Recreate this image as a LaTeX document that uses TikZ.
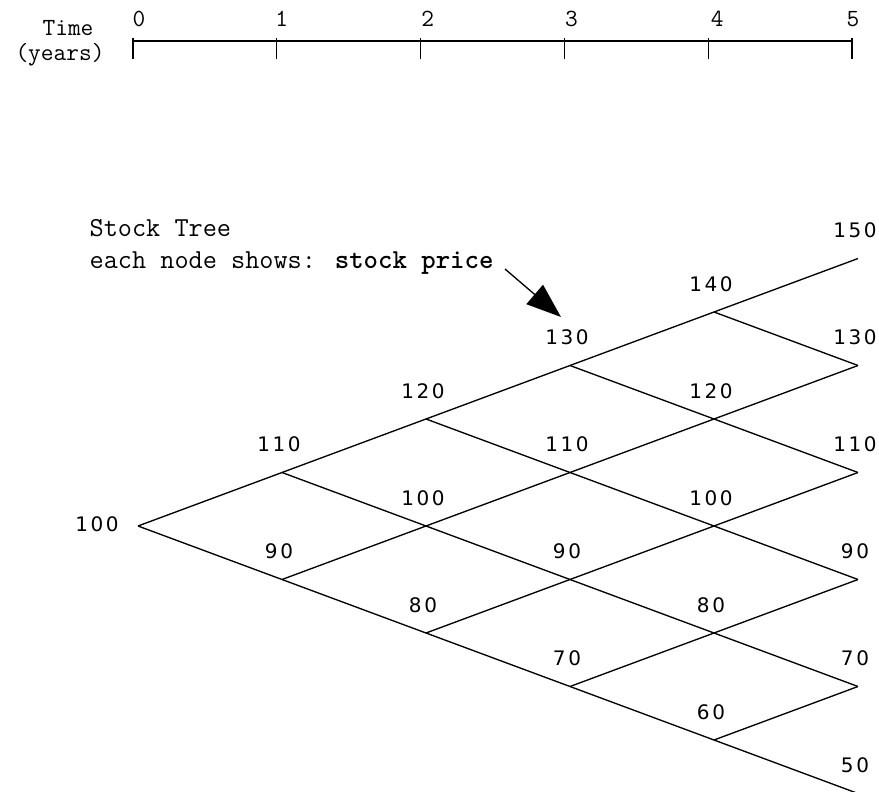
\documentclass[tikz,border=0pt]{standalone}
\usepackage{fontspec}
\newfontfamily\numfont[LetterSpace=13]{DejaVu Sans}
\usetikzlibrary{calc, arrows.meta}

\begin{document}
\begin{tikzpicture}[x=0.75pt, y=-0.75pt, line width=1pt,
        txt/.style={inner sep=0pt, font=\ttfamily\fontsize{18.5}{21}\selectfont},
        note/.style={inner sep=0pt, font=\ttfamily\fontsize{20.6}{23}\selectfont},
        price/.style={inner sep=0pt, font=\numfont\fontsize{15}{17}\selectfont}]
        \useasboundingbox (0,0) rectangle (879,792);
        \def\dx{144}
        \def\dy{53.5}

        % time axis
        \foreach \t/\s in {0/6, 1/5, 2/7, 3/7, 4/9, 5/1} {
            \coordinate (tk\t) at ({133+143.8*\t}, 41);
            \coordinate (tb\t) at ({133+143.8*\t}, 59);
            \draw ([yshift=2.25pt]tk\t) -- (tb\t);
            \node[txt, anchor=base] (tl\t) at ($(tk\t)+(\s,-14.3)$) {\t};
        }
        \draw (tk0) -- (tk5);
        \node[txt, anchor=base] (time) at (68, 35.5) {Time};
        \node[txt, anchor=base] (years) at (60, 61) {(years)};

        % tree
        \foreach \t in {0,...,5} {
            \foreach \j in {0,...,\t} {
                \coordinate (n\t\j) at ({138+\dx*\t}, {526-\dy*(\t-2*\j)});
            }
        }
        \foreach \t in {0,...,4} {
            \pgfmathtruncatemacro\s{\t+1}
            \foreach \j in {0,...,\t} {
                \pgfmathtruncatemacro\k{\j+1}
                \draw (n\t\j) -- (n\s\j);
                \draw (n\t\j) -- (n\s\k);
            }
        }
        \foreach \t in {1,...,5} {
            \foreach \j in {0,...,\t} {
                \pgfmathtruncatemacro\p{100+10*(\t-2*\j)}
                \node[price] (p\t\j) at ($(n\t\j)+(-3,-28)$) {\p};
            }
        }
        \node[price] (p00) at ($(n00)+(-41,-2)$) {100};

        \node[note, anchor=base west] (title) at (89, 236.7) {Stock Tree};
        \node[note, anchor=base west] (legend) at (89, 268) {each node shows: \textbf{stock price}};
        \coordinate (arrfrom) at (505, 269);
        \coordinate (arrto) at (561, 317);
        \draw[-{Triangle[length=26pt, width=19pt]}] (arrfrom) -- (arrto);
    \end{tikzpicture}
\end{document}
